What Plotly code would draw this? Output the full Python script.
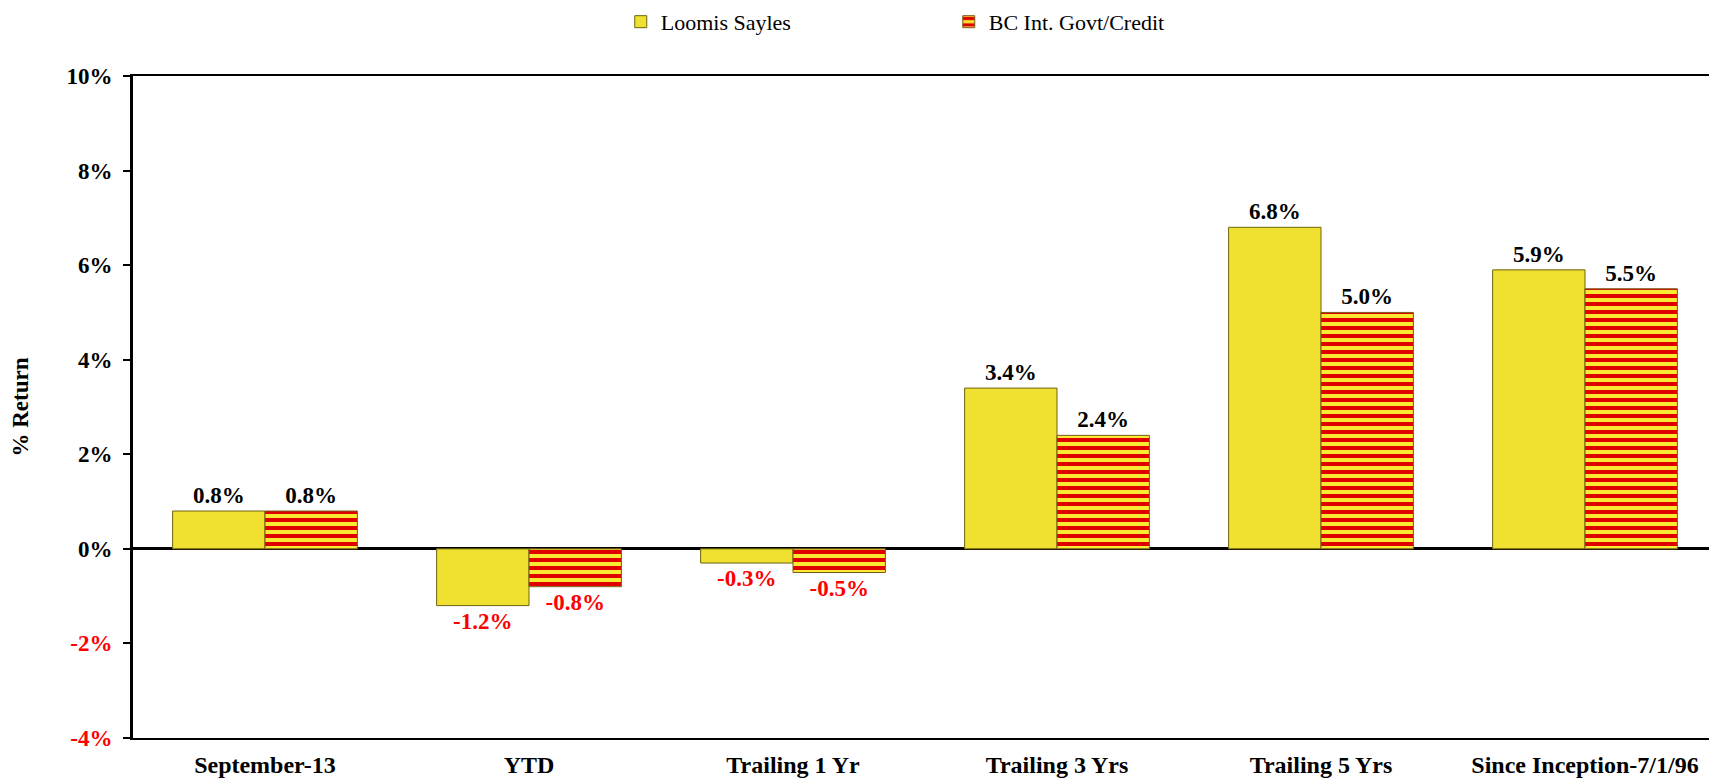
import plotly.graph_objects as go

categories = ["September-13", "YTD", "Trailing 1 Yr", "Trailing 3 Yrs", "Trailing 5 Yrs", "Since Inception-7/1/96"]
loomis = [0.8, -1.2, -0.3, 3.4, 6.8, 5.9]
bc = [0.8, -0.8, -0.5, 2.4, 5.0, 5.5]
tick_vals = [-4, -2, 0, 2, 4, 6, 8, 10]
tick_text = ["-4%", "-2%", "0%", "2%", "4%", "6%", "8%", "10%"]

FONT = "Liberation Serif"

def label_colors(vals):
    return ["#ff0000" if v < 0 else "#000000" for v in vals]

fig = go.Figure()
fig.add_trace(go.Bar(
    name="Loomis Sayles", x=categories, y=loomis,
    marker=dict(color="#f0e030", line=dict(color="#6e6410", width=1)),
    text=[f"{v:.1f}%" for v in loomis], textposition="outside",
    textfont=dict(family=FONT, size=23, color=label_colors(loomis), weight="bold"),
    cliponaxis=False,
))
fig.add_trace(go.Bar(
    name="BC Int. Govt/Credit", x=categories, y=bc,
    marker=dict(color="#f8ea30", line=dict(color="#7a5a20", width=1),
                pattern=dict(shape="-", fgcolor="#e00000", bgcolor="#f8ea30",
                             size=8, solidity=0.5, fillmode="replace")),
    text=[f"{v:.1f}%" for v in bc], textposition="outside",
    textfont=dict(family=FONT, size=23, color=label_colors(bc), weight="bold"),
    cliponaxis=False,
))

ticktext_html = [f"<span style='color:#ff0000'>{t}</span>" if v < 0 else t
                 for v, t in zip(tick_vals, tick_text)]

fig.update_layout(
    width=1709, height=771,
    paper_bgcolor="white", plot_bgcolor="white",
    margin=dict(l=125, r=0, t=68, b=41, autoexpand=False),
    barmode="group", bargap=0.3, bargroupgap=0,
    font=dict(family=FONT, color="black"),
    uniformtext=dict(mode=False),
    legend=dict(orientation="h", x=0.515, xanchor="center", y=0.982, yanchor="middle",
                yref="container", font=dict(family=FONT, size=22, color="black"),
                entrywidth=283, entrywidthmode="pixels", itemwidth=30,
                tracegroupgap=0, bgcolor="rgba(0,0,0,0)"),
    showlegend=True,
    xaxis=dict(showline=True, linecolor="black", linewidth=2, mirror=True,
               ticks="", tickfont=dict(family=FONT, size=24, color="black", weight="bold"),
               ticklabelstandoff=4, automargin=False,
               showgrid=False, zeroline=False),
    yaxis=dict(range=[-4, 10], tickvals=tick_vals, ticktext=ticktext_html,
               showline=True, linecolor="black", linewidth=3, ticks="outside",
               ticklen=7, tickwidth=2, tickcolor="black", ticklabelstandoff=6,
               tickfont=dict(family=FONT, size=23, color="black", weight="bold"),
               showgrid=False, zeroline=True, zerolinecolor="black", zerolinewidth=3,
               automargin=False,
               title=dict(text="% Return", font=dict(family=FONT, size=23, color="black", weight="bold"),
                          standoff=43)),
)

fig.write_html("out.html")
